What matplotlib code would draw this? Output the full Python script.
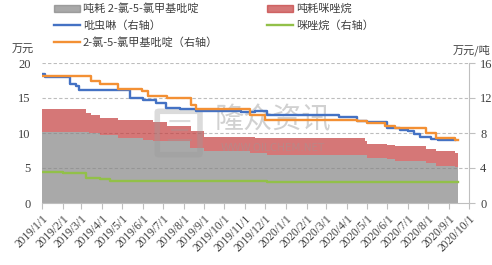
import datetime as dt
import matplotlib
matplotlib.use('Agg')
import matplotlib.pyplot as plt
from matplotlib.patches import Patch, FancyBboxPatch
from matplotlib.lines import Line2D

plt.rcParams['font.family'] = ['Noto Sans CJK SC', 'DejaVu Sans']
plt.rcParams['axes.unicode_minus'] = False

# 数据: 每条序列 = 变动日期 + 数值 (阶梯), 最后一个日期是结束点
end_day = '2020-09-15'

gray_dates = ['2019-01-01', '2019-03-13', '2019-03-29', '2019-04-25', '2019-06-01',
              '2019-06-16', '2019-08-10', '2019-09-01', '2019-11-09', '2019-12-03',
              '2020-05-01', '2020-06-01', '2020-06-13', '2020-07-28', '2020-08-13',
              '2020-09-10']
gray_vals = [10.2, 10.0, 9.7, 9.3, 9.0,
             8.8, 7.8, 7.4, 7.1, 6.8,
             6.4, 6.25, 6.0, 5.7, 5.35,
             5.1]

red_dates = ['2019-01-01', '2019-03-08', '2019-03-16', '2019-03-29', '2019-04-25',
             '2019-06-16', '2019-07-07', '2019-08-12', '2019-09-01', '2019-11-16',
             '2020-04-28', '2020-05-01', '2020-06-01', '2020-06-13', '2020-07-28',
             '2020-08-13', '2020-09-10']
red_vals = [13.5, 12.9, 12.55, 12.1, 11.9,
            11.6, 11.0, 10.3, 9.5, 9.3,
            8.9, 8.5, 8.3, 8.1, 7.75,
            7.37, 7.2]

# 右轴
blue_dates = ['2019-01-01', '2019-01-05', '2019-02-12', '2019-02-21', '2019-02-26',
              '2019-05-13', '2019-06-01', '2019-06-20', '2019-07-05', '2019-07-26',
              '2019-08-19', '2019-10-26', '2019-11-16', '2019-12-03', '2020-03-21',
              '2020-04-16', '2020-05-01', '2020-06-01', '2020-06-20', '2020-07-01',
              '2020-07-10', '2020-07-20', '2020-08-05', '2020-08-15']
blue_vals = [14.8, 14.4, 13.6, 13.4, 12.9,
             12.0, 11.8, 11.45, 10.9, 10.7,
             10.55, 10.4, 10.5, 10.1, 9.85,
             9.35, 9.25, 8.57, 8.4, 8.27,
             7.9, 7.55, 7.35, 7.25]
blue_end = '2020-09-10'

orange_dates = ['2019-01-01', '2019-03-16', '2019-03-29', '2019-04-25', '2019-05-30',
                '2019-06-08', '2019-07-07', '2019-08-12', '2019-08-19', '2019-11-09',
                '2019-12-01', '2020-04-16', '2020-05-01', '2020-05-28', '2020-06-13',
                '2020-07-28', '2020-08-13', '2020-09-10']
orange_vals = [14.5, 14.0, 13.6, 13.05, 12.8,
               12.2, 12.0, 11.25, 10.7, 10.1,
               9.5, 9.35, 9.1, 8.84, 8.55,
               8.02, 7.45, 7.25]

green_dates = ['2019-01-01', '2019-02-01', '2019-03-08', '2019-03-29', '2019-04-13',
               '2019-12-03']
green_vals = [3.5, 3.4, 2.9, 2.74, 2.5,
              2.36]

labels = ['吨耗 2-氯-5-氯甲基吡啶', '吡虫啉（右轴）', '2-氯-5-氯甲基吡啶（右轴）',
          '吨耗咪唑烷', '咪唑烷（右轴）']

c_gray = '#858585'
c_red = '#c43e3e'
c_blue = '#4472C4'
c_orange = '#F39034'
c_green = '#92C049'


def to_step(dates, vals, last):
    # 阶梯数据: 末尾补一个结束点
    xs = [dt.datetime.strptime(d, '%Y-%m-%d') for d in dates]
    xs.append(dt.datetime.strptime(last, '%Y-%m-%d'))
    ys = list(vals) + [vals[-1]]
    return xs, ys


def val_at(xs, ys, t):
    v = ys[0]
    for x, y in zip(xs, ys):
        if x <= t:
            v = y
    return v


def draw():
    fig = plt.figure(figsize=(4.92, 2.65), dpi=100)
    ax = fig.add_axes([42 / 492, 62 / 265, 427 / 492, 140 / 265])
    ax2 = ax.twinx()

    # 网格 (在面积图下面)
    for v in [5, 10, 15, 20]:
        ax.axhline(v, color='#bdbdbd', lw=0.8, ls=(0, (3, 2)), zorder=0)

    gx, gy = to_step(gray_dates, gray_vals, end_day)
    rx, ry = to_step(red_dates, red_vals, end_day)
    # 两个面积图用同一组日期
    allx = sorted(set(gx) | set(rx))
    g_all = [val_at(gx, gy, t) for t in allx]
    r_all = [val_at(rx, ry, t) for t in allx]
    ax.fill_between(allx, 0, g_all, step='post', color=c_gray, alpha=0.7, lw=0, zorder=1)
    ax.fill_between(allx, g_all, r_all, step='post', color=c_red, alpha=0.7, lw=0, zorder=1)

    bx, by = to_step(blue_dates, blue_vals, blue_end)
    ox, oy = to_step(orange_dates, orange_vals, end_day)
    hx, hy = to_step(green_dates, green_vals, end_day)
    ax2.step(bx, by, where='post', color=c_blue, lw=1.7)
    ax2.step(ox, oy, where='post', color=c_orange, lw=1.7)
    ax2.step(hx, hy, where='post', color=c_green, lw=1.7)

    # 坐标轴
    x0 = dt.datetime(2019, 1, 1)
    x1 = dt.datetime(2020, 10, 1)
    ax.set_xlim(x0, x1)
    ax.set_ylim(0, 20)
    ax2.set_ylim(0, 16)
    ax.set_yticks([0, 5, 10, 15, 20])
    ax2.set_yticks([0, 4, 8, 12, 16])

    months = []
    y, m = 2019, 1
    while (y, m) <= (2020, 10):
        months.append(dt.datetime(y, m, 1))
        m += 1
        if m > 12:
            y, m = y + 1, 1
    ax.set_xticks(months)
    ax.set_xticklabels(['{}/{}/1'.format(d.year, d.month) for d in months],
                       rotation=45, ha='right', rotation_mode='anchor',
                       fontsize=8.3, family='Liberation Serif', color='#404040')

    for a in (ax, ax2):
        for s in a.spines.values():
            s.set_visible(False)
    ax.spines['bottom'].set_visible(True)
    ax.spines['bottom'].set_color('#bfbfbf')
    ax2.spines['right'].set_visible(True)
    ax2.spines['right'].set_color('#bfbfbf')

    ax.tick_params(axis='x', length=4, color='#bfbfbf', pad=3)
    ax.tick_params(axis='y', length=0, pad=8, labelsize=9, labelcolor='#404040')
    ax2.tick_params(axis='y', length=4, color='#bfbfbf', pad=4, labelsize=9,
                    labelcolor='#404040')
    for lab in ax.get_yticklabels() + ax2.get_yticklabels():
        lab.set_family('Liberation Serif')

    fig.text(12 / 492, 1 - 50 / 265, '万元', fontsize=8, color='#404040', va='center')
    fig.text(490 / 492, 1 - 50 / 265, '万元/吨', fontsize=8, color='#404040',
             va='center', ha='right')

    # 水印
    logo = FancyBboxPatch((0.275, 0.35), 0.09, 0.3, boxstyle='round,pad=0.005',
                          transform=ax.transAxes, fill=False, ec='#9a9a9a', lw=4,
                          alpha=0.35, zorder=5)
    ax.add_patch(logo)
    ax.text(0.32, 0.5, '三', transform=ax.transAxes, fontsize=20, color='#9a9a9a',
            alpha=0.35, ha='center', va='center', zorder=5)
    ax.text(0.54, 0.59, '隆众资讯', transform=ax.transAxes, fontsize=21,
            color='#9a9a9a', alpha=0.45, ha='center', va='center', zorder=5)
    ax.text(0.54, 0.39, 'WWW.OILCHEM.NET', transform=ax.transAxes, fontsize=7.5,
            color='#9a9a9a', alpha=0.45, ha='center', va='center', zorder=5,
            family='DejaVu Sans')

    # 图例
    handles = [Patch(color=c_gray, alpha=0.7), Line2D([], [], color=c_blue, lw=1.7),
               Line2D([], [], color=c_orange, lw=1.7), Patch(color=c_red, alpha=0.7),
               Line2D([], [], color=c_green, lw=1.7)]
    fig.legend(handles, labels, ncol=2, loc='upper left', bbox_to_anchor=(44 / 492, 1.025),
               frameon=False, fontsize=8, handlelength=2.3, handleheight=0.6,
               handletextpad=0.3, columnspacing=4.4, labelspacing=0.55,
               labelcolor='#404040')

    fig.savefig('out.png', dpi=100)


if __name__ == '__main__':
    draw()
